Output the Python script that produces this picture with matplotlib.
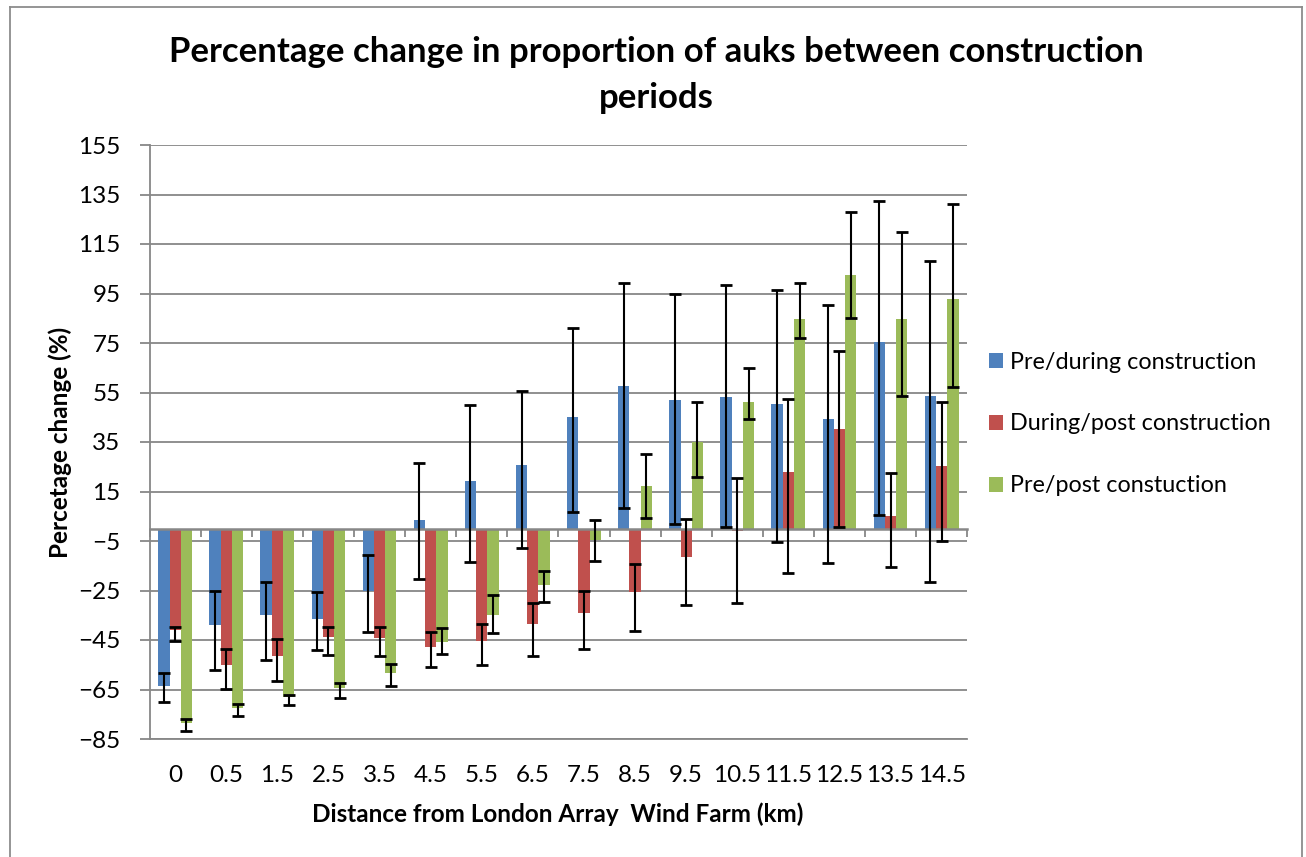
import matplotlib
matplotlib.use("Agg")
import matplotlib.pyplot as plt
from matplotlib.lines import Line2D
import numpy as np

plt.rcParams['font.family'] = ['Lato', 'DejaVu Sans']

# Distance bands (km)
distances = ["0", "0.5", "1.5", "2.5", "3.5", "4.5", "5.5", "6.5", "7.5",
             "8.5", "9.5", "10.5", "11.5", "12.5", "13.5", "14.5"]

# Pre/during construction: value, lower and upper error-bar limits (%)
pre_during = [-63.6, -39.1, -34.8, -36.4, -25.3, 3.4, 19.2, 25.9, 44.9,
              57.5, 52.1, 53.0, 50.3, 44.1, 75.4, 53.4]
pre_during_lo = [-70.1, -57.3, -53.1, -49.0, -41.7, -20.4, -13.3, -7.8, 6.7,
                 8.4, 1.9, 0.6, -5.6, -13.7, 5.5, -21.5]
pre_during_hi = [-58.5, -25.1, -21.5, -25.7, -10.8, 26.7, 49.8, 55.8, 80.9,
                 99.3, 94.7, 98.4, 96.5, 90.3, 132.3, 108.1]

# During/post construction
during_post = [-41.0, -55.0, -51.6, -43.8, -44.2, -47.8, -45.6, -38.7, -34.0,
               -25.5, -11.4, -1.1, 22.7, 40.3, 5.2, 25.3]
during_post_lo = [-45.6, -64.6, -61.5, -51.1, -51.6, -55.8, -55.3, -51.6, -48.6,
                  -41.5, -31.0, -30.2, -18.0, 0.6, -15.6, -4.8]
during_post_hi = [-39.7, -48.7, -44.6, -39.9, -39.7, -41.8, -38.6, -30.2, -25.0,
                  -14.2, 3.8, 20.5, 52.3, 71.8, 22.5, 51.1]

# Pre/post construction
pre_post = [-78.5, -72.5, -68.2, -64.2, -58.5, -46.0, -35.0, -22.8, -4.4,
            17.2, 35.2, 51.1, 84.6, 102.3, 84.6, 92.6]
pre_post_lo = [-81.7, -75.8, -71.4, -68.4, -63.4, -50.8, -42.1, -29.8, -13.1,
               4.1, 20.9, 44.1, 77.1, 84.9, 53.7, 57.2]
pre_post_hi = [-76.8, -70.8, -67.3, -62.3, -54.6, -40.2, -27.0, -17.0, 3.4,
               30.2, 51.1, 64.7, 99.1, 127.9, 119.9, 131.2]

series_labels = ["Pre/during construction", "During/post construction",
                 "Pre/post constuction"]
y_ticks = list(range(-85, 156, 20))

W, H = 1306, 857
DPI = 100
fig = plt.figure(figsize=(W / DPI, H / DPI), dpi=DPI)
fig.patch.set_facecolor('white')

# plot area in pixels: left 149.6, right 967.2, top 145, bottom 739
ax = fig.add_axes([149.6 / W, (H - 739) / H, (967.2 - 149.6) / W, (739 - 145) / H])

grid_col = '#878787'
colors = ['#4F81BD', '#C0504D', '#9BBB59']
values = [pre_during, during_post, pre_post]
lows = [pre_during_lo, during_post_lo, pre_post_lo]
highs = [pre_during_hi, during_post_hi, pre_post_hi]

x = np.arange(len(distances))
bw = 0.221
offsets = [-bw, 0.0, bw]

for vals, lo, hi, col, off, lab in zip(values, lows, highs, colors, offsets, series_labels):
    v = np.array(vals)
    yerr = np.vstack([v - np.array(lo), np.array(hi) - v])
    ax.bar(x + off, v, width=bw, color=col, label=lab, zorder=2)
    ax.errorbar(x + off, v, yerr=yerr, fmt='none', ecolor='black',
                elinewidth=1.5, capsize=4.2, capthick=2.0, zorder=3)

ax.set_xlim(-0.5, len(distances) - 0.5)
ax.set_ylim(-85, 155)
ax.set_yticks(y_ticks)
ax.yaxis.grid(True, color=grid_col, linewidth=1.3, zorder=0)
ax.set_axisbelow(True)

for s in ['top', 'right']:
    ax.spines[s].set_visible(False)
ax.spines['left'].set_color(grid_col)
ax.spines['left'].set_linewidth(1.3)
ax.spines['bottom'].set_position(('data', 0))
ax.spines['bottom'].set_color(grid_col)
ax.spines['bottom'].set_linewidth(1.8)
ax.spines['bottom'].set_zorder(2.5)

# category boundary tick marks on the zero line
ax.set_xticks(np.arange(-0.5, len(distances), 1.0))
ax.set_xticklabels([])
ax.tick_params(axis='x', which='major', length=6, width=1.3, color=grid_col,
               direction='out')
ax.tick_params(axis='y', length=7, width=1.3, color=grid_col, pad=14,
               labelsize=17.5)

# category labels along the bottom of the plot area
sec = ax.secondary_xaxis(0.0)
sec.set_xticks(x)
sec.set_xticklabels(distances)
sec.tick_params(length=0, pad=19, labelsize=17.5)
sec.spines['bottom'].set_color(grid_col)
sec.spines['bottom'].set_linewidth(1.3)

fig.text(60 / W, (H - 442) / H, "Percetage change (%)", rotation=90,
         ha='center', va='center', fontsize=17.5, fontweight='bold')
fig.text(558 / W, (H - 814) / H, "Distance from London Array  Wind Farm (km)",
         ha='center', va='center', fontsize=17.5, fontweight='bold')

fig.text(656 / W, (H - 52) / H,
         "Percentage change in proportion of auks between construction",
         ha='center', va='center', fontsize=25, fontweight='bold')
fig.text(656 / W, (H - 98) / H, "periods",
         ha='center', va='center', fontsize=25, fontweight='bold')

leg = fig.legend(loc='center left', bbox_to_anchor=(977 / W, (H - 424) / H),
                 frameon=False, fontsize=16.8, handlelength=0.62, handleheight=0.62,
                 handletextpad=0.3, labelspacing=1.75, borderpad=0)

# chart-area frame
frame_kw = dict(color='#8c8c8c', linewidth=1.3, transform=fig.transFigure)
fig.add_artist(Line2D([10 / W, 10 / W], [0, (H - 7) / H], **frame_kw))
fig.add_artist(Line2D([10 / W, 1302 / W], [(H - 7) / H, (H - 7) / H], **frame_kw))
fig.add_artist(Line2D([1302 / W, 1302 / W], [0, (H - 7) / H], **frame_kw))

fig.savefig("out.png", dpi=DPI, facecolor='white')
